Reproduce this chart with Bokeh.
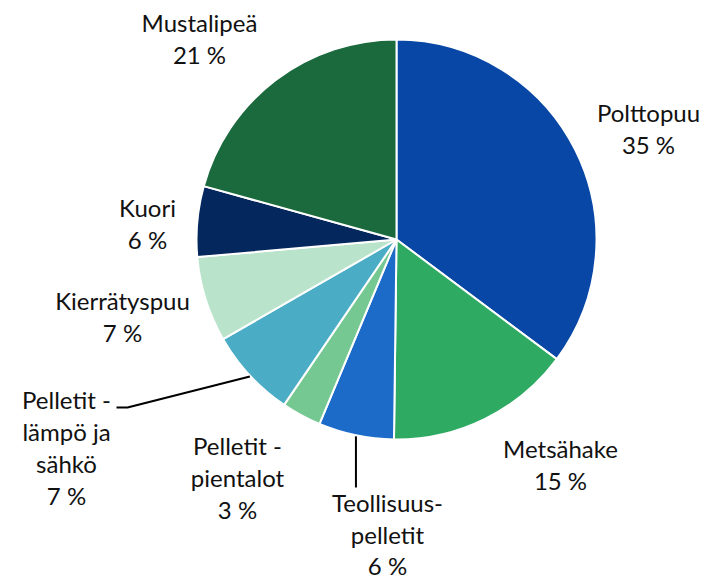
import math
from bokeh.plotting import figure
from bokeh.models import Range1d, ColumnDataSource
from bokeh.core.properties import value
from bokeh.embed import file_html
from bokeh.resources import INLINE

# ---- data ----
categories = ["Polttopuu", "Metsähake", "Teollisuus-\npelletit", "Pelletit -\npientalot",
              "Pelletit -\nlämpö ja\nsähkö", "Kierrätyspuu", "Kuori", "Mustalipeä"]
shares = [35.2, 15.0, 6.1, 3.2, 7.2, 6.9, 5.7, 20.7]
colors = ["#0847A6", "#2EAA63", "#1D6BC8", "#76C893", "#4BACC6", "#B9E4CB", "#04285E", "#1B6A3D"]

# label anchor positions (screen px, centre of the first line) - layout only
label_pos = [(648, 112), (560, 448), (387, 502), (237, 445), (66, 399), (122, 300), (147, 207), (199, 22)]
leader = [False, False, True, False, True, False, False, False]
line_h = 32

W, H = 709, 580
cx, cy, R = 396, 239, 200  # screen px


def sy(y):
    return 580 - y


p = figure(width=W, height=H, output_backend="svg", toolbar_location=None,
           x_range=Range1d(0, W), y_range=Range1d(580 - H, 580),
           min_border=0, outline_line_color=None)
p.axis.visible = False
p.grid.visible = False
p.background_fill_color = "white"

total = sum(shares)
starts, ends, mids = [], [], []
acc = 0.0
for s in shares:
    a0 = math.pi / 2 - 2 * math.pi * acc / total
    acc += s
    a1 = math.pi / 2 - 2 * math.pi * acc / total
    starts.append(a0)
    ends.append(a1)
    mids.append((a0 + a1) / 2)

src = ColumnDataSource(dict(start=starts, end=ends, color=colors))
p.wedge(x=cx, y=sy(cy), radius=R, start_angle="start", end_angle="end",
        direction="clock", fill_color="color", line_color="white", line_width=2,
        source=src)

# labels
xs, ys, txt = [], [], []
for cat, s, (lx, ly) in zip(categories, shares, label_pos):
    lines = cat.split("\n") + [f"{round(s)} %"]
    lh = 31.5 if cat.startswith("Teollisuus") else line_h
    for i, t in enumerate(lines):
        xs.append(lx)
        ys.append(sy(ly + i * lh))
        txt.append(t)
p.text(x=xs, y=ys, text=txt, text_font=value("Lato"), text_font_size="24px",
       text_color="#111111", text_align="center", text_baseline="middle")

# leader lines
for i, (lx, ly) in enumerate(label_pos):
    if not leader[i]:
        continue
    ex = cx + R * math.cos(mids[i])
    ey = cy - R * math.sin(mids[i])
    if categories[i].startswith("Teollisuus"):
        p.line([ex, ex], [sy(ey + 1), sy(ly - 15)], line_color="black", line_width=2)
    else:
        p.line([ex, lx + 61, lx + 50], [sy(ey + 1), sy(ly + 8), sy(ly + 8)],
               line_color="black", line_width=2)

open("out.html", "w").write(file_html(p, INLINE))
